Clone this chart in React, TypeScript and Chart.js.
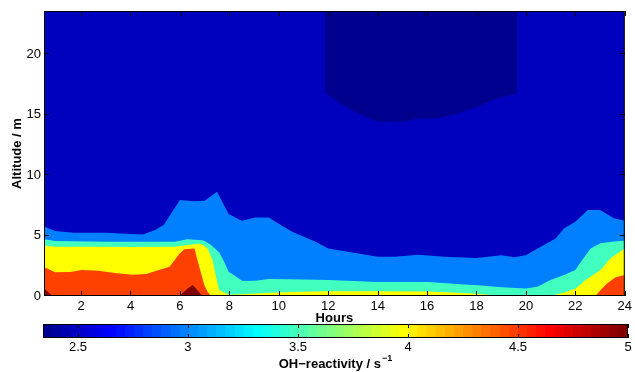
import React, { useEffect, useRef } from "react";
import { Chart, registerables } from "chart.js";

Chart.register(...registerables);

// ---------- axes ----------
const hourRange = [0.5, 24];
const altitudeRange = [0, 23.6];
const reactivityRange = [2.341, 5];
const hourTicks = [2, 4, 6, 8, 10, 12, 14, 16, 18, 20, 22, 24];
const altitudeTicks = [0, 5, 10, 15, 20];
const reactivityTicks = [2.5, 3, 3.5, 4, 4.5, 5];

// ---------- contour boundaries (altitude of each OH-reactivity level vs hour) ----------
// region below 2.5 s-1 (upper middle), filled up to the top
const level25Hours = [11.86, 12.56, 13.23, 14.0, 15.11, 15.51, 16.45, 17.25, 18.06, 18.86, 19.55, 19.64];
const level25Alt = [16.83, 15.81, 15.12, 14.43, 14.46, 14.65, 14.71, 15.12, 15.67, 16.37, 16.7, 16.83];

const level3Hours = [0.5, 0.95, 1.7, 3.0, 4.0, 4.5, 5.0, 5.35, 6.0, 6.55, 7.0, 7.5, 7.97, 8.5, 9.05, 9.6, 10.08, 10.54, 11.49, 12.0, 12.8, 14.0, 14.7, 15.64, 16.7, 18.0, 19.0, 19.53, 20.0, 20.47, 21.2, 21.55, 22.0, 22.5, 23.0, 23.56, 24.0];
const level3Alt = [5.76, 5.38, 5.24, 5.24, 5.13, 5.1, 5.46, 5.9, 7.95, 7.84, 7.89, 8.64, 6.79, 6.24, 6.51, 6.51, 5.88, 5.32, 4.5, 3.94, 3.67, 3.26, 3.26, 3.42, 3.26, 3.15, 3.37, 3.2, 3.37, 3.94, 4.77, 5.6, 6.15, 7.12, 7.12, 6.43, 6.24];

const level35Hours = [0.5, 0.95, 3.0, 5.8, 6.3, 6.9, 7.0, 7.26, 7.59, 7.75, 7.97, 8.53, 9.07, 9.6, 10.41, 12.0, 14.0, 16.05, 17.65, 18.06, 19.0, 20.0, 20.47, 21.0, 21.55, 22.0, 22.28, 22.62, 23.02, 23.56, 24.0];
const level35Alt = [4.69, 4.55, 4.5, 4.5, 4.69, 4.62, 4.55, 4.22, 3.6, 3.0, 2.0, 1.25, 1.27, 1.41, 1.38, 1.32, 1.16, 1.16, 0.94, 0.88, 0.72, 0.63, 0.77, 1.32, 1.74, 2.15, 2.98, 3.94, 4.36, 4.52, 4.58];

const level4Hours = [0.5, 0.95, 3.0, 4.0, 5.8, 6.3, 6.79, 6.95, 7.12, 7.32, 7.46, 7.59, 7.97, 8.5, 9.5, 10.5, 12.0, 14.0, 16.0, 17.0, 18.0, 18.5, 19.0, 20.8, 21.2, 21.55, 22.01, 22.41, 23.02, 23.42, 24.0];
const level4Alt = [4.19, 4.08, 4.08, 4.05, 4.08, 4.22, 4.33, 4.2, 3.94, 2.98, 1.6, 0.5, 0.1, 0.15, 0.25, 0.33, 0.4, 0.4, 0.38, 0.3, 0.18, 0.1, 0.0, 0.0, 0.1, 0.28, 0.63, 1.32, 2.15, 3.12, 3.94];

const level45Hours = [0.5, 0.95, 1.56, 2.03, 2.7, 3.44, 4.1, 4.64, 5.05, 5.58, 5.98, 6.18, 6.59, 6.72, 6.86, 6.99, 7.12, 7.26, 22.82, 23.02, 23.29, 23.63, 24.0];
const level45Alt = [2.4, 1.96, 1.99, 2.15, 2.1, 1.88, 1.77, 1.82, 2.1, 2.43, 3.5, 3.87, 3.94, 2.9, 1.85, 0.9, 0.35, 0, 0, 0.5, 1.05, 1.55, 1.74];

const level5Hours = [0.5, 0.85, 5.98, 6.3, 6.52, 6.79, 6.92, 24.0];
const level5Alt = [0.63, 0, 0, 0.6, 0.91, 0.3, 0, 0];

// ---------- colour map (MATLAB jet, 64 steps) ----------
const jetSteps = 64;
function jetRow(i: number): string {
  // i: 1..64
  const u = (j: number) => (j < 1 || j > 47 ? 0 : j <= 16 ? j / 16 : j <= 31 ? 1 : (48 - j) / 16);
  const r = i >= 25 ? u(i - 24) : 0;
  const g = i >= 9 && i <= 55 ? u(i - 8) : 0;
  const b = i <= 39 ? u(i + 8) : 0;
  const c = (v: number) => Math.round(v * 255);
  return `rgb(${c(r)},${c(g)},${c(b)})`;
}
function levelColor(v: number): string {
  const t = (v - reactivityRange[0]) / (reactivityRange[1] - reactivityRange[0]);
  const idx = Math.min(jetSteps, Math.max(1, Math.floor(t * jetSteps + 1e-9) + 1));
  return jetRow(idx);
}

const FONT = "'Liberation Sans', Arial, Helvetica, sans-serif";

const pts = (hs: number[], as: number[]) => hs.map((h, i) => ({ x: h, y: as[i] }));

export default function App() {
  const mainRef = useRef<HTMLCanvasElement>(null);
  const barRef = useRef<HTMLCanvasElement>(null);

  useEffect(() => {
    const bands = [
      { data: [{ x: hourRange[0], y: altitudeRange[1] }, { x: hourRange[1], y: altitudeRange[1] }], color: levelColor(2.5), fill: "start" },
      { data: pts(level25Hours, level25Alt), color: levelColor(reactivityRange[0]), fill: "end" },
      { data: pts(level3Hours, level3Alt), color: levelColor(3), fill: "start" },
      { data: pts(level35Hours, level35Alt), color: levelColor(3.5), fill: "start" },
      { data: pts(level4Hours, level4Alt), color: levelColor(4), fill: "start" },
      { data: pts(level45Hours, level45Alt), color: levelColor(4.5), fill: "start" },
      { data: pts(level5Hours, level5Alt), color: levelColor(5), fill: "start" },
    ];

    const framePlugin = {
      id: "frame",
      afterDraw(chart: any) {
        const { ctx, chartArea, scales } = chart;
        const { left, right, top, bottom } = chartArea;
        ctx.save();
        ctx.strokeStyle = "#000";
        ctx.lineWidth = 1;
        ctx.beginPath();
        for (const t of hourTicks) {
          const px = Math.round(scales.x.getPixelForValue(t)) + 0.5;
          ctx.moveTo(px, bottom);
          ctx.lineTo(px, bottom - 5);
          ctx.moveTo(px, top);
          ctx.lineTo(px, top + 5);
        }
        for (const t of altitudeTicks) {
          const py = Math.round(scales.y.getPixelForValue(t)) - 0.5;
          ctx.moveTo(left, py);
          ctx.lineTo(left + 5, py);
          ctx.moveTo(right, py);
          ctx.lineTo(right - 5, py);
        }
        ctx.stroke();
        ctx.strokeRect(left + 0.5, top + 0.5, right - left - 1, bottom - top - 1);
        ctx.restore();
      },
    };

    const tickFont = { family: FONT, size: 13 };
    const titleFont = { family: FONT, size: 13, weight: "bold" as const };

    const main = new Chart(mainRef.current!, {
      type: "line",
      data: {
        datasets: bands.map((b, i) => ({
          data: b.data,
          backgroundColor: b.color,
          borderColor: "rgba(0,0,0,0)",
          borderWidth: 0,
          pointRadius: 0,
          fill: b.fill,
          tension: 0,
          order: bands.length - i,
        })),
      },
      options: {
        responsive: false,
        animation: false,
        events: [],
        layout: { padding: { left: 0, top: 11, right: 7, bottom: 0 } },
        plugins: { legend: { display: false }, tooltip: { enabled: false } },
        scales: {
          x: {
            type: "linear",
            min: hourRange[0],
            max: hourRange[1],
            afterBuildTicks: (s: any) => {
              s.ticks = hourTicks.map((v) => ({ value: v }));
            },
            afterFit: (s: any) => {
              s.height = 34;
            },
            grid: { display: false, drawTicks: false },
            border: { display: false },
            ticks: { padding: 3, color: "#000", font: tickFont, maxRotation: 0, autoSkip: false, callback: (v: any) => String(v) },
            title: { display: true, text: "Hours", color: "#000", font: titleFont, padding: { top: 0, bottom: 4 } },
          },
          y: {
            type: "linear",
            min: altitudeRange[0],
            max: altitudeRange[1],
            afterBuildTicks: (s: any) => {
              s.ticks = altitudeTicks.map((v) => ({ value: v }));
            },
            afterFit: (s: any) => {
              s.width = 44;
            },
            grid: { display: false, drawTicks: false },
            border: { display: false },
            ticks: { padding: 3, color: "#000", font: tickFont, autoSkip: false, callback: (v: any) => String(v) },
            title: { display: true, text: "Altitude / m", color: "#000", font: titleFont, padding: { top: 10, bottom: 0 } },
          },
        },
      } as any,
      plugins: [framePlugin],
    });

    // colour bar
    const span = reactivityRange[1] - reactivityRange[0];
    const steps = Array.from({ length: jetSteps }, (_, k) => k);
    const barFrame = {
      id: "barFrame",
      afterDraw(chart: any) {
        const { ctx, chartArea, scales } = chart;
        const { left, right, top, bottom } = chartArea;
        ctx.save();
        ctx.strokeStyle = "#000";
        ctx.lineWidth = 1;
        ctx.beginPath();
        for (const t of reactivityTicks) {
          const px = Math.round(scales.x.getPixelForValue(t)) + 0.5;
          ctx.moveTo(px, top);
          ctx.lineTo(px, top + 4);
          ctx.moveTo(px, bottom);
          ctx.lineTo(px, bottom - 4);
        }
        ctx.stroke();
        ctx.strokeRect(left + 0.5, top + 0.5, right - left - 1, bottom - top - 1);
        // title with superscript
        const mainText = "OH\u2212reactivity / s";
        const supText = "\u22121";
        ctx.fillStyle = "#000";
        ctx.textBaseline = "middle";
        ctx.textAlign = "left";
        ctx.font = `bold 13px ${FONT}`;
        const w1 = ctx.measureText(mainText).width;
        ctx.font = `bold 9px ${FONT}`;
        const w2 = ctx.measureText(supText).width;
        const cx = (left + right) / 2;
        const x0 = cx - (w1 + w2 + 1) / 2;
        ctx.font = `bold 13px ${FONT}`;
        ctx.fillText(mainText, x0, 46);
        ctx.font = `bold 9px ${FONT}`;
        ctx.fillText(supText, x0 + w1 + 1, 41);
        ctx.restore();
      },
    };

    const bar = new Chart(barRef.current!, {
      type: "bar",
      data: {
        labels: [""],
        datasets: steps.map((k) => ({
          data: [[reactivityRange[0] + (k * span) / jetSteps, reactivityRange[1]]],
          backgroundColor: jetRow(k + 1),
          borderWidth: 0,
          grouped: false,
          barPercentage: 1,
          categoryPercentage: 1,
          order: jetSteps - k,
        })),
      },
      options: {
        indexAxis: "y",
        responsive: false,
        animation: false,
        events: [],
        layout: { padding: { left: 43, right: 7, top: 6, bottom: 0 } },
        plugins: { legend: { display: false }, tooltip: { enabled: false } },
        scales: {
          x: {
            type: "linear",
            min: reactivityRange[0],
            max: reactivityRange[1],
            afterBuildTicks: (s: any) => {
              s.ticks = reactivityTicks.map((v) => ({ value: v }));
            },
            afterFit: (s: any) => {
              s.height = 34;
            },
            grid: { display: false, drawTicks: false },
            border: { display: false },
            ticks: { padding: 2, color: "#000", font: tickFont, maxRotation: 0, autoSkip: false, callback: (v: any) => String(v) },
          },
          y: { type: "category", display: false },
        },
      } as any,
      plugins: [barFrame],
    });

    return () => {
      main.destroy();
      bar.destroy();
    };
  }, []);

  return (
    <div style={{ position: "absolute", left: 0, top: 0, width: 635, height: 372, background: "#fff" }}>
      <canvas ref={mainRef} width={635} height={330} style={{ position: "absolute", left: 0, top: 0, width: 635, height: 330 }} />
      <canvas ref={barRef} width={635} height={54} style={{ position: "absolute", left: 0, top: 318, width: 635, height: 54 }} />
    </div>
  );
}
